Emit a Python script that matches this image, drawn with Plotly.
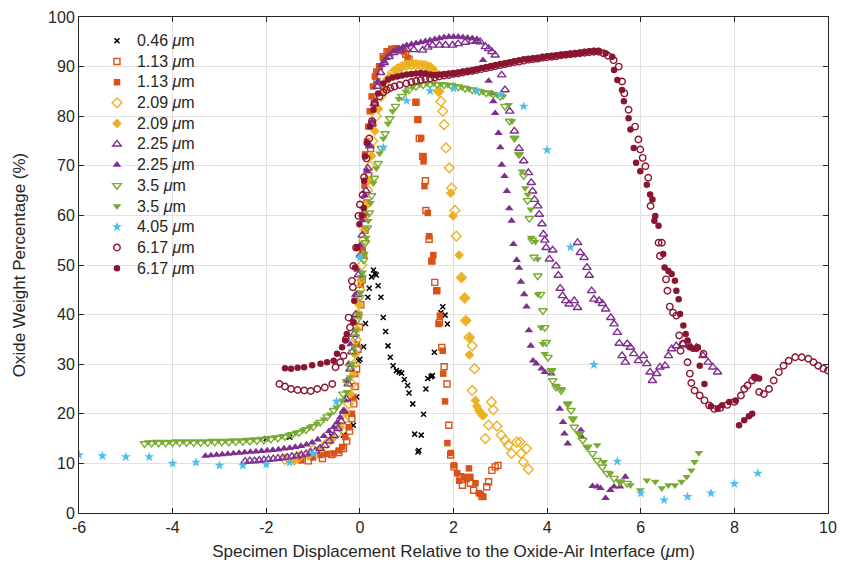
import plotly.graph_objects as go

# ---------------- data (x = displacement in um, y = oxide wt %) ----------------
s046 = [(-2.0,15.0),(-1.5,15.3),(-0.6,15.5),(-0.35,15.7),(-0.14,17.7),(-0.07,23.4),(-0.03,30.7),(0.0,31.0),(0.08,33.5),(0.12,38.2),(0.17,43.5),(0.20,45.3),(0.25,47.6),(0.29,49.0),(0.32,48.2),(0.35,48.0),(0.39,45.8),(0.45,43.5),(0.50,39.4),(0.55,36.6),(0.60,33.7),(0.65,31.4),(0.71,29.7),(0.78,28.7),(0.84,28.4),(0.89,28.2),(0.95,26.9),(1.02,25.7),(1.05,24.2),(1.13,22.0),(1.17,15.9),(1.24,12.3),(1.26,12.6),(1.31,15.7),(1.36,19.9),(1.41,25.0),(1.45,27.1),(1.52,27.5),(1.55,27.7),(1.59,32.4),(1.73,40.4),(1.77,41.6),(1.82,39.9),(1.87,38.1)]

s113_open = [(-1.1,10.5),(-0.8,11.0),(-0.6,11.8),(-0.45,12.2),(-0.35,13.0),(-0.28,14.5),(-0.22,16.5),(-0.17,19.0),(-0.13,22.0),(-0.10,25.5),(-0.07,29.0),(-0.04,33.0),(-0.01,37.5),(0.02,42.0),(0.05,47.0),(0.08,52.0),(0.11,57.0),(0.15,62.5),(0.19,68.0),(0.23,73.5),(0.27,78.5),(0.31,83.0),(0.36,87.0),(0.42,90.0),(0.50,92.0),(0.58,93.0),(0.68,93.5),(0.78,93.6),(0.88,93.3),(0.98,92.5),(1.05,91.5),(1.20,82.8),(1.24,79.3),(1.27,75.5),(1.34,71.9),(1.40,67.0),(1.41,61.0),(1.48,55.2),(1.54,50.8),(1.60,46.5),(1.64,44.8),(1.70,38.4),(1.75,33.4),(1.80,29.5),(1.86,26.0),(1.90,17.7),(1.94,11.7),(2.01,9.3),(2.15,7.3),(2.19,5.6),(2.36,6.0),(2.43,4.6),(2.61,3.3),(2.71,5.3),(2.75,6.3),(2.82,8.6),(2.89,9.3),(2.95,9.6)]

s113_filled = [(-1.25,10.6),(-1.0,11.2),(-0.84,11.7),(-0.7,11.9),(-0.56,12.0),(-0.45,12.6),(-0.38,13.3),(-0.31,15.3),(-0.24,17.3),(-0.17,20.0),(-0.14,23.4),(-0.10,28.0),(-0.06,34.0),(-0.02,40.0),(0.02,46.0),(0.06,53.0),(0.09,60.0),(0.10,66.0),(0.11,72.3),(0.15,74.9),(0.18,77.9),(0.21,81.0),(0.25,84.0),(0.28,86.0),(0.32,88.0),(0.35,89.0),(0.42,90.0),(0.50,91.7),(0.60,93.0),(0.67,93.4),(0.74,93.5),(0.81,93.5),(0.88,93.3),(0.95,93.0),(1.02,91.7),(1.19,82.8),(1.24,79.3),(1.31,75.6),(1.36,71.9),(1.36,70.9),(1.38,65.9),(1.45,60.5),(1.48,55.8),(1.57,52.0),(1.53,50.8),(1.65,44.9),(1.71,39.8),(1.68,38.1),(1.77,32.7),(1.78,28.1),(1.82,22.5),(1.87,14.1),(1.94,12.1),(2.01,9.6),(2.08,8.0),(2.12,6.5),(2.22,7.3),(2.28,6.8),(2.33,9.0),(2.36,7.3),(2.47,6.0),(2.54,4.0),(2.58,3.8),(2.64,3.3)]

s209_open = [(-1.6,10.8),(-1.3,11.3),(-1.0,12.7),(-0.71,14.0),(-0.49,16.0),(-0.35,18.7),(-0.24,22.0),(-0.17,26.0),(-0.12,30.0),(-0.08,35.0),(-0.04,40.0),(0.0,45.0),(0.04,50.0),(0.08,55.0),(0.12,60.0),(0.17,65.0),(0.22,70.0),(0.28,75.0),(0.35,80.0),(0.45,84.0),(0.60,87.5),(0.70,88.8),(0.80,89.5),(0.90,90.0),(1.00,90.3),(1.10,90.4),(1.20,90.4),(1.30,90.3),(1.40,90.2),(1.50,89.8),(1.58,89.0),(1.68,85.0),(1.73,83.0),(1.77,81.0),(1.80,78.3),(1.84,73.6),(1.91,69.6),(1.96,65.5),(2.03,61.0),(2.06,55.8),(2.17,47.5),(2.24,43.3),(2.26,38.8),(2.33,35.4),(2.40,33.7),(2.45,29.1),(2.40,24.7),(2.81,22.4),(2.85,20.8),(2.75,17.7),(2.93,17.5),(2.68,15.0),(3.02,15.7),(3.10,14.7),(3.17,13.7),(3.24,12.0),(3.35,14.3),(3.42,14.3),(3.44,12.0),(3.56,13.0),(3.49,10.3),(3.60,8.8)]

s209_filled = [(-1.4,10.5),(-1.1,11.5),(-0.85,13.0),(-0.6,14.8),(-0.42,17.2),(-0.30,20.2),(-0.20,24.0),(-0.14,28.0),(-0.10,32.0),(-0.06,37.0),(-0.02,42.0),(0.02,47.0),(0.06,52.0),(0.10,57.0),(0.14,62.0),(0.19,67.0),(0.25,72.0),(0.32,77.0),(0.40,81.5),(0.52,85.5),(0.65,88.0),(0.75,89.2),(0.85,89.8),(0.95,90.2),(1.05,90.4),(1.15,90.5),(1.25,90.4),(1.35,90.3),(1.45,90.1),(1.55,89.6),(1.62,88.5),(1.70,85.0),(1.94,64.5),(1.99,59.9),(2.12,52.0),(2.17,47.3),(2.24,43.5),(2.28,38.8),(2.34,31.9),(2.36,35.4),(2.47,22.7),(2.50,21.5),(2.54,20.7),(2.57,20.3),(2.61,19.7),(2.64,19.7)]

s225_open = [(-2.45,10.4),(-2.35,10.5),(-2.25,10.5),(-2.15,10.6),(-2.05,10.7),(-1.95,10.8),(-1.85,10.9),(-1.75,11.0),(-1.65,11.1),(-1.55,11.2),(-1.45,11.4),(-1.35,11.5),(-1.25,11.7),(-1.15,11.9),(-1.05,12.2),(-0.95,12.5),(-0.85,13.0),(-0.75,13.6),(-0.65,14.5),(-0.55,15.6),(-0.47,17.0),(-0.40,18.5),(-0.34,20.5),(-0.29,23.0),(-0.25,26.0),(-0.21,29.0),(-0.17,32.5),(-0.13,36.0),(-0.09,40.0),(-0.06,44.0),(-0.03,48.0),(0.01,52.0),(0.05,56.0),(0.09,60.5),(0.13,65.0),(0.17,69.5),(0.21,74.0),(0.26,78.5),(0.31,82.5),(0.37,86.0),(0.44,88.8),(0.52,90.8),(0.62,92.0),(0.72,92.8),(0.85,93.3),(1.00,93.5),(1.15,93.4),(1.34,93.3),(1.45,93.9),(1.55,94.3),(1.70,94.3),(1.83,94.3),(1.98,94.3),(2.10,94.6),(2.25,94.9),(2.40,95.1),(2.50,95.2),(2.57,95.0),(2.68,94.0),(2.75,93.6),(2.82,93.0),(2.89,92.3),(3.03,88.3),(3.10,85.3),(3.20,81.0),(3.30,77.0),(3.40,73.5),(3.50,71.0),(3.60,68.6),(3.66,66.6),(3.69,64.9),(3.73,63.2),(3.80,61.9),(3.83,60.2),(3.89,58.3),(3.92,56.2),(3.95,55.0),(3.98,53.5),(4.12,53.0),(4.05,51.2),(4.19,49.8),(4.24,47.9),(4.28,45.3),(4.33,43.8),(4.40,42.8),(4.47,42.1),(4.58,42.8),(4.65,41.4),(4.65,54.5),(4.71,52.5),(4.79,51.5),(4.85,49.5),(4.90,47.9),(4.95,44.8),(5.00,43.1),(5.11,42.8),(5.18,42.2),(5.25,41.1),(5.36,39.4),(5.43,38.1),(5.50,36.4),(5.54,34.2),(5.60,31.7),(5.67,30.4),(5.71,34.1),(5.78,33.4),(5.85,32.1),(5.95,30.7),(6.06,31.7),(6.13,30.1),(6.20,28.4),(6.25,26.7),(6.34,28.1),(6.41,29.4),(6.52,29.7),(6.59,31.7),(6.66,33.1),(6.76,33.7),(6.90,34.1),(7.05,33.7),(7.19,33.4),(7.33,31.7),(7.44,30.4),(7.54,29.4),(7.64,28.4)]

s225_filled = [(-3.30,11.5),(-3.18,11.6),(-3.06,11.7),(-2.94,11.8),(-2.82,11.9),(-2.70,12.0),(-2.58,12.1),(-2.46,12.2),(-2.34,12.3),(-2.22,12.4),(-2.10,12.5),(-1.98,12.6),(-1.86,12.7),(-1.74,12.8),(-1.62,13.0),(-1.50,13.1),(-1.38,13.3),(-1.26,13.5),(-1.14,13.8),(-1.02,14.2),(-0.90,14.8),(-0.77,15.5),(-0.66,16.5),(-0.56,17.3),(-0.49,18.2),(-0.42,19.3),(-0.36,20.6),(-0.31,22.7),(-0.28,26.7),(-0.24,30.1),(-0.20,34.0),(-0.15,39.0),(-0.10,44.0),(-0.05,49.0),(0.00,54.0),(0.05,59.0),(0.10,64.0),(0.15,69.0),(0.20,74.0),(0.26,79.0),(0.32,83.0),(0.38,87.0),(0.46,90.3),(0.52,91.0),(0.57,91.7),(0.64,92.4),(0.71,93.0),(0.80,93.5),(0.92,94.0),(1.00,94.3),(1.10,94.5),(1.20,94.7),(1.30,94.9),(1.40,95.1),(1.50,95.3),(1.60,95.5),(1.70,95.7),(1.80,95.9),(1.90,96.0),(2.00,96.0),(2.10,96.0),(2.20,95.9),(2.30,95.8),(2.40,95.7),(2.50,95.5),(2.63,91.3),(2.75,87.1),(2.82,84.6),(2.85,83.0),(2.89,80.6),(2.96,76.6),(3.00,73.7),(3.03,70.2),(3.09,67.9),(3.14,64.9),(3.19,61.4),(3.24,58.9),(3.28,54.2),(3.35,51.0),(3.40,49.4),(3.44,46.6),(3.51,44.1),(3.56,41.6),(3.61,36.8),(3.65,33.7),(3.70,30.7),(3.77,30.1),(3.88,29.1),(3.95,28.4),(4.09,28.1),(4.27,21.0),(4.34,18.3),(4.37,16.0),(4.44,14.0),(4.72,16.7),(4.74,15.3),(4.97,5.4),(5.07,5.3),(5.14,5.0),(5.25,3.0),(5.35,4.6),(5.43,5.3),(5.56,5.3),(5.67,7.3)]

s35_open = [(-4.60,14.0),(-4.45,14.1),(-4.30,14.1),(-4.15,14.1),(-4.00,14.2),(-3.85,14.2),(-3.70,14.2),(-3.55,14.2),(-3.40,14.2),(-3.25,14.2),(-3.10,14.3),(-2.95,14.3),(-2.80,14.3),(-2.65,14.4),(-2.50,14.4),(-2.35,14.5),(-2.20,14.6),(-2.05,14.7),(-1.90,14.9),(-1.75,15.1),(-1.60,15.4),(-1.45,15.8),(-1.30,16.2),(-1.15,16.8),(-1.00,17.4),(-0.85,18.3),(-0.70,19.4),(-0.56,20.7),(-0.45,22.2),(-0.36,24.0),(-0.28,26.5),(-0.21,29.5),(-0.15,32.5),(-0.10,35.5),(-0.05,39.0),(0.00,43.5),(0.04,47.5),(0.08,51.0),(0.12,54.5),(0.16,57.5),(0.20,60.5),(0.25,64.0),(0.31,67.5),(0.39,70.5),(0.46,73.5),(0.54,76.5),(0.64,79.5),(0.76,82.0),(0.90,84.0),(1.05,85.3),(1.20,86.0),(1.35,86.3),(1.50,86.4),(1.65,86.4),(1.80,86.3),(1.95,86.2),(2.10,85.9),(2.25,85.6),(2.40,85.3),(2.55,85.0),(2.70,84.7),(2.85,84.4),(3.00,84.0),(3.10,82.0),(3.20,79.0),(3.30,75.6),(3.40,72.3),(3.50,68.0),(3.58,63.0),(3.62,59.4),(3.68,55.0),(3.72,51.6),(3.80,47.8),(3.86,44.1),(3.91,40.8),(3.95,37.4),(3.98,34.4),(4.02,31.4),(4.09,28.7),(4.12,26.7),(4.19,25.4),(4.30,24.7),(4.44,22.0),(4.51,20.7),(4.55,19.0),(4.58,17.3),(4.69,16.0),(4.76,14.7),(4.86,13.3),(4.97,12.0),(5.07,10.6),(5.18,9.3),(5.28,8.0),(5.43,7.0),(5.56,6.3),(5.71,6.0)]

s35_filled = [(-4.52,14.3),(-4.37,14.4),(-4.22,14.4),(-4.07,14.4),(-3.92,14.5),(-3.77,14.5),(-3.62,14.5),(-3.47,14.5),(-3.32,14.5),(-3.17,14.6),(-3.02,14.6),(-2.87,14.6),(-2.72,14.7),(-2.57,14.7),(-2.42,14.8),(-2.27,14.9),(-2.12,15.0),(-1.97,15.1),(-1.82,15.3),(-1.67,15.5),(-1.52,15.8),(-1.37,16.2),(-1.22,16.7),(-1.07,17.3),(-0.92,18.0),(-0.77,18.9),(-0.64,19.9),(-0.50,21.3),(-0.38,22.7),(-0.28,24.4),(-0.21,27.4),(-0.17,30.1),(-0.12,33.5),(-0.08,36.8),(-0.03,40.1),(0.02,44.5),(0.06,48.5),(0.10,52.2),(0.14,55.5),(0.18,58.9),(0.23,62.5),(0.29,66.5),(0.35,69.5),(0.42,72.5),(0.50,75.5),(0.60,78.5),(0.70,81.0),(0.83,83.5),(0.98,85.0),(1.13,86.0),(1.28,86.4),(1.43,86.6),(1.58,86.6),(1.73,86.5),(1.88,86.3),(2.03,86.1),(2.18,85.8),(2.33,85.5),(2.48,85.2),(2.63,84.9),(2.78,84.6),(2.93,84.3),(3.06,84.0),(3.18,82.3),(3.25,79.0),(3.32,75.6),(3.39,72.3),(3.46,68.9),(3.53,65.5),(3.59,64.2),(3.65,61.2),(3.66,55.5),(3.75,54.7),(3.80,51.2),(3.80,44.1),(3.87,37.4),(3.91,34.1),(3.95,32.1),(4.09,28.7),(4.19,25.7),(4.30,25.0),(4.44,22.0),(4.55,19.0),(4.69,16.0),(4.86,13.3),(5.07,13.7),(5.21,10.3),(5.35,8.0),(5.56,6.3),(5.78,5.6),(5.99,4.6),(6.13,6.6),(6.31,6.3),(6.45,5.0),(6.59,5.6),(6.73,5.6),(6.87,6.3),(6.98,7.3),(7.08,8.6),(7.15,10.3),(7.24,12.1)]

s405 = [(-6.0,11.7),(-5.5,11.5),(-5.0,11.3),(-4.5,11.3),(-4.0,10.0),(-3.5,10.2),(-3.0,9.6),(-2.5,9.6),(-2.0,9.8),(-1.5,10.2),(-1.0,12.0),(-0.5,22.5),(0.0,51.5),(0.5,73.7),(1.0,83.1),(1.5,85.1),(2.0,85.6),(2.5,85.1),(3.0,84.4),(3.5,82.0),(4.0,73.2),(4.5,53.6),(5.0,29.9),(5.5,10.4),(6.0,4.0),(6.5,2.6),(7.0,3.3),(7.5,4.0),(8.0,5.9),(8.5,8.0)]

s617_open = [(-1.72,26.0),(-1.60,25.5),(-1.47,25.0),(-1.33,24.8),(-1.19,24.7),(-1.05,24.6),(-0.91,25.0),(-0.75,25.3),(-0.59,26.0),(-0.52,29.4),(-0.42,30.4),(-0.35,31.7),(-0.30,35.0),(-0.21,37.4),(-0.24,39.4),(-0.17,46.8),(-0.15,45.5),(-0.14,49.8),(-0.08,53.5),(-0.03,59.9),(0.00,62.2),(0.06,64.1),(0.09,67.7),(0.14,71.5),(0.20,75.5),(0.26,79.0),(0.32,82.6),(0.42,84.0),(0.50,84.8),(0.57,85.3),(0.65,85.7),(0.74,86.0),(0.85,86.3),(0.99,86.6),(1.10,86.9),(1.20,87.1),(1.30,87.3),(1.40,87.5),(1.50,87.6),(1.60,87.8),(1.70,88.0),(1.80,88.2),(1.90,88.3),(2.00,88.5),(2.10,88.6),(2.20,88.8),(2.30,89.0),(2.40,89.1),(2.50,89.3),(2.60,89.5),(2.70,89.7),(2.80,89.9),(2.90,90.1),(3.00,90.3),(3.10,90.5),(3.20,90.7),(3.30,90.9),(3.40,91.0),(3.50,91.2),(3.60,91.4),(3.70,91.5),(3.80,91.6),(3.90,91.8),(4.00,91.9),(4.10,92.0),(4.20,92.1),(4.30,92.3),(4.40,92.4),(4.50,92.5),(4.60,92.6),(4.70,92.7),(4.80,92.8),(4.90,92.9),(5.00,93.0),(5.10,93.0),(5.20,92.7),(5.30,92.2),(5.42,91.3),(5.53,90.0),(5.60,87.0),(5.65,84.6),(5.74,81.3),(5.88,77.9),(5.95,75.3),(5.99,73.3),(6.04,71.6),(6.10,69.9),(6.16,67.6),(6.21,61.9),(6.38,54.5),(6.45,54.5),(6.41,51.8),(6.54,47.1),(6.57,44.8),(6.62,41.6),(6.69,40.4),(6.76,39.8),(6.82,35.8),(6.85,32.7),(6.90,34.1),(7.00,30.4),(7.05,28.1),(7.08,26.2),(7.15,24.7),(7.26,23.7),(7.34,32.1),(7.36,22.7),(7.46,21.7),(7.57,21.0),(7.70,21.2),(7.85,21.8),(8.00,22.4),(8.14,23.7),(8.21,25.0),(8.28,25.7),(8.38,26.7),(8.45,27.3),(8.53,24.4),(8.63,24.0),(8.74,25.0),(8.84,26.7),(8.95,28.4),(9.05,29.7),(9.16,30.7),(9.30,31.4),(9.44,31.4),(9.58,31.1),(9.69,30.4),(9.79,29.7),(9.90,29.1),(10.00,28.7)]

s617_filled = [(-1.60,29.2),(-1.47,29.1),(-1.33,29.3),(-1.19,29.4),(-1.02,29.8),(-0.84,30.1),(-0.70,30.4),(-0.56,30.7),(-0.49,32.1),(-0.38,33.4),(-0.31,34.8),(-0.28,36.1),(-0.14,38.4),(-0.12,42.8),(-0.10,49.5),(-0.06,53.5),(-0.01,58.2),(0.04,60.0),(0.08,61.5),(0.09,67.0),(0.11,71.9),(0.15,74.6),(0.22,77.9),(0.29,81.3),(0.39,84.6),(0.50,86.6),(0.60,87.4),(0.70,87.8),(0.80,88.0),(0.90,88.2),(1.00,88.4),(1.10,88.5),(1.20,88.6),(1.30,88.7),(1.40,88.6),(1.50,88.4),(1.60,88.3),(1.70,88.4),(1.80,88.5),(1.90,88.6),(2.00,88.7),(2.10,88.8),(2.20,89.0),(2.30,89.1),(2.40,89.3),(2.50,89.5),(2.60,89.7),(2.70,89.9),(2.80,90.1),(2.90,90.3),(3.00,90.5),(3.10,90.7),(3.20,90.9),(3.30,91.1),(3.40,91.3),(3.50,91.5),(3.60,91.6),(3.70,91.7),(3.80,91.8),(3.90,92.0),(4.00,92.1),(4.10,92.2),(4.20,92.3),(4.30,92.4),(4.40,92.5),(4.50,92.6),(4.60,92.7),(4.70,92.8),(4.80,93.0),(4.90,93.1),(5.00,93.2),(5.10,93.2),(5.25,92.7),(5.39,92.0),(5.43,89.3),(5.50,87.3),(5.60,85.3),(5.64,83.0),(5.74,79.6),(5.78,77.3),(5.85,73.6),(5.90,70.6),(5.99,68.9),(6.13,66.2),(6.20,64.2),(6.25,63.2),(6.31,59.9),(6.29,58.9),(6.38,57.9),(6.48,52.2),(6.51,49.5),(6.59,48.8),(6.66,48.2),(6.73,46.8),(6.76,44.8),(6.81,43.1),(6.84,40.1),(6.91,37.8),(6.96,36.1),(7.00,34.8),(7.05,33.4),(7.12,33.1),(7.19,33.1),(7.22,33.4),(7.26,29.7),(7.36,26.0),(7.50,21.5),(7.64,21.0),(7.74,21.7),(7.89,22.4),(8.03,22.7),(8.10,17.7),(8.21,18.7),(8.31,19.5),(8.38,20.0),(8.42,27.4),(8.53,27.1)]

labels = ["0.46", "1.13", "1.13", "2.09", "2.09", "2.25", "2.25", "3.5", "3.5", "4.05", "6.17", "6.17"]
series = [s046, s113_open, s113_filled, s209_open, s209_filled, s225_open, s225_filled,
          s35_open, s35_filled, s405, s617_open, s617_filled]

x_ticks = [-6, -4, -2, 0, 2, 4, 6, 8, 10]
x_ticktext = ["-6", "-4", "-2", "0", "2", "4", "6", "8", "10"]
y_ticks = [0, 10, 20, 30, 40, 50, 60, 70, 80, 90, 100]

# ---------------- styles ----------------
BLACK = "#000000"; ORANGE = "#D95319"; YELLOW = "#EDB120"; PURPLE = "#7E2F8E"
GREEN = "#77AC30"; BLUE = "#4DBEEE"; DRED = "#8A1530"
styles = [
    dict(symbol="x-thin-open", color=BLACK, size=5, line=dict(color=BLACK, width=1.5)),
    dict(symbol="square-open", color=ORANGE, size=6, line=dict(color=ORANGE, width=1.4)),
    dict(symbol="square", color=ORANGE, size=6.5, line=dict(width=0)),
    dict(symbol="diamond-open", color=YELLOW, size=7.5, line=dict(color=YELLOW, width=1.4)),
    dict(symbol="diamond", color=YELLOW, size=7.5, line=dict(width=0)),
    dict(symbol="triangle-up-open", color=PURPLE, size=7.5, line=dict(color=PURPLE, width=1.4)),
    dict(symbol="triangle-up", color=PURPLE, size=7.5, line=dict(width=0)),
    dict(symbol="triangle-down-open", color=GREEN, size=7.5, line=dict(color=GREEN, width=1.4)),
    dict(symbol="triangle-down", color=GREEN, size=7.5, line=dict(width=0)),
    dict(symbol="star", color=BLUE, size=7.5, line=dict(width=0)),
    dict(symbol="circle-open", color=DRED, size=6.5, line=dict(color=DRED, width=1.4)),
    dict(symbol="circle", color=DRED, size=6.5, line=dict(width=0)),
]

fig = go.Figure()
for lab, pts, st in zip(labels, series, styles):
    fig.add_trace(go.Scatter(
        x=[p[0] for p in pts], y=[p[1] for p in pts], mode="markers",
        name=f'<span style="font-size:16px">{lab} <i>\u03bc</i>m</span>',
        marker=st, cliponaxis=True))

FONT = "Liberation Sans, Arial, Helvetica, sans-serif"
axis_common = dict(showgrid=True, gridcolor="#E1E1E1", gridwidth=1, zeroline=False,
                   showline=True, linecolor="#262626", linewidth=1, mirror="ticks",
                   ticks="inside", ticklen=5, tickcolor="#262626",
                   tickfont=dict(size=16, color="#262626", family=FONT))

fig.update_layout(
    width=846, height=578,
    margin=dict(l=79, r=9, t=15, b=65),
    paper_bgcolor="white", plot_bgcolor="white",
    font=dict(family=FONT, color="#262626"),
    showlegend=True,
    legend=dict(x=0.024, y=0.983, xanchor="left", yanchor="top",
                bgcolor="rgba(255,255,255,0)", borderwidth=0,
                font=dict(size=13.6, color="#262626", family=FONT),
                tracegroupgap=0, itemwidth=30),
    xaxis=dict(range=[-6, 10], tickvals=x_ticks, ticktext=x_ticktext,
               title=dict(text="Specimen Displacement Relative to the Oxide-Air Interface (<i>\u03bc</i>m)",
                          font=dict(size=17, family=FONT, color="#262626"), standoff=9),
               **axis_common),
    yaxis=dict(range=[0, 100], tickvals=y_ticks,
               title=dict(text="Oxide Weight Percentage (%)",
                          font=dict(size=17, family=FONT, color="#262626"), standoff=18),
               **axis_common),
)

fig.write_html("out.html")
